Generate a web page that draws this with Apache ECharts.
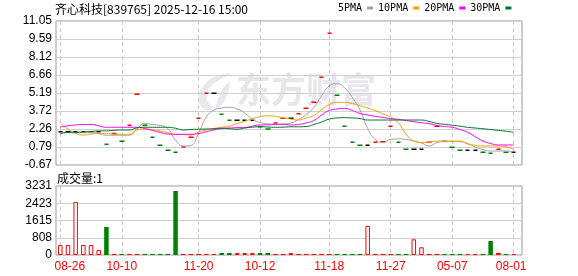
<!DOCTYPE html>
<html><head><meta charset="utf-8">
<script src="https://cdn.jsdelivr.net/npm/echarts@6/dist/echarts.min.js"></script>
<style>html,body{margin:0;padding:0;background:#fff}#c{width:578px;height:276px}</style>
</head><body><div id="c"></div>
<script>
// ---- data ----
const dateLabels = ['08-26','10-10','11-20','10-12','11-18','11-27','05-07','08-01'];
const dateIndex  = [0, 8, 18, 26, 35, 43, 51, 59];
const price = [2.03,2.03,2.03,2.03,2.03,2.03,1.02,1.90,1.26,2.56,
               5.08,2.56,1.59,0.93,0.53,0.36,0.80,1.59,3.13,5.17,
               5.17,3.46,2.97,2.97,2.97,2.97,2.45,2.26,2.75,3.14,
               3.14,3.51,3.94,4.43,6.47,10.05,5.00,2.48,1.18,0.93,
               0.93,1.18,1.23,2.48,1.18,0.61,0.61,0.61,1.18,2.48,
               1.27,0.77,0.53,0.53,0.53,0.36,0.28,0.61,0.36,0.36];
const ma5 = [1.96,1.96,1.96,1.96,1.96,1.89,1.75,1.75,1.75,1.75,
             2.26,2.71,2.63,2.55,2.30,1.36,0.88,0.92,1.93,3.24,
             3.81,3.97,4.03,3.89,3.56,3.05,2.79,2.68,2.65,2.67,
             2.75,3.03,3.44,4.01,4.95,5.76,5.94,5.60,4.82,3.81,
             2.30,1.40,1.16,1.42,1.45,1.41,1.28,1.12,0.88,1.15,
             1.23,1.23,1.23,1.08,0.80,0.58,0.47,0.47,0.47,0.39];
const ma10 = [2.69,2.26,1.89,1.77,1.85,1.89,1.89,1.83,1.83,1.83,
              2.20,2.24,2.20,2.10,1.96,1.81,1.80,1.77,2.02,2.18,
              2.30,2.41,2.49,2.71,2.89,3.10,3.26,3.34,3.28,3.16,
              3.07,2.99,3.16,3.36,3.85,4.25,4.43,4.43,4.34,4.16,
              3.97,3.77,3.48,3.24,2.75,1.85,1.28,1.16,1.18,1.28,
              1.28,1.28,1.28,1.04,0.93,0.88,0.88,0.88,0.82,0.55];
const ma20 = [2.42,2.52,2.59,2.63,2.63,2.52,2.40,2.40,2.40,2.40,
              2.40,2.30,2.14,1.98,1.85,1.83,1.83,1.83,1.89,2.04,
              2.18,2.30,2.34,2.37,2.38,2.50,2.59,2.60,2.63,2.64,
              2.59,2.63,2.75,2.95,3.40,3.77,3.89,3.94,3.77,3.52,
              3.40,3.29,3.20,3.10,3.05,2.95,2.85,2.77,2.69,2.55,
              2.46,2.40,2.22,1.99,1.63,1.28,1.08,0.96,0.96,0.96];
const ma30 = [1.88,1.98,1.99,2.02,2.06,2.10,2.11,2.15,2.18,2.18,
              2.36,2.40,2.40,2.40,2.40,2.32,2.18,2.22,2.24,2.26,
              2.28,2.32,2.28,2.24,2.34,2.41,2.45,2.42,2.40,2.41,
              2.44,2.44,2.46,2.63,2.83,3.07,3.16,3.18,3.16,3.11,
              2.99,2.99,2.99,2.99,2.99,2.99,2.99,2.99,2.87,2.72,
              2.64,2.57,2.49,2.40,2.34,2.28,2.22,2.15,2.08,1.99];
const volume = [468,468,2481,468,468,234,1311,50,50,50,
                50,50,50,50,50,2996,50,50,50,50,
                50,95,95,95,95,95,95,95,50,50,
                95,50,50,50,50,50,50,50,50,50,
                1358,50,50,50,50,50,735,360,50,50,
                50,50,50,50,50,50,655,100,50,50];
const priceTicks  = ['-0.67','0.79','2.26','3.72','5.19','6.66','8.12','9.59','11.05'];
const volumeTicks = ['0','808','1615','2423','3231'];
const seriesNames = ['5PMA','10PMA','20PMA','30PMA'];
const titleText = '齐心科技[839765] 2025-12-16 15:00';
const volTitle = '成交量:1';
const watermarkText = '东方财富';

// ---- styling ----
const RED = '#ff0000', GREEN = '#008000', BLACK = '#000000';
const maColors = ['#a0a0a0', '#f5a000', '#ff00ff', '#006f2e'];
const labelFont = 'Liberation Sans';

const pMin = Number(priceTicks[0]), pMax = Number(priceTicks[priceTicks.length - 1]);
const pStep = (pMax - pMin) / (priceTicks.length - 1);
const vMin = Number(volumeTicks[0]), vMax = Number(volumeTicks[volumeTicks.length - 1]);
const vStep = (vMax - vMin) / (volumeTicks.length - 1);

const colorOf = price.map((p, i) => {
  const prev = i > 0 ? price[i - 1] : p;
  return p > prev ? RED : (p < prev ? GREEN : BLACK);
});

const candleData = price.map((p, i) => {
  const c = colorOf[i];
  return { value: [i, p, p, p, p],
    itemStyle: { color: c, color0: c, borderColor: c, borderColor0: c, borderColorDoji: c } };
});
const volData = volume.map((v, i) => {
  const c = colorOf[i];
  if (c === BLACK) return { value: [i, v], itemStyle: { color: '#ffffff', borderColor: RED, borderWidth: 1 } };
  return { value: [i, v], itemStyle: { color: c } };
});
const maSeries = [ma5, ma10, ma20, ma30].map((arr, k) => ({
  name: seriesNames[k], type: 'line', xAxisIndex: 0, yAxisIndex: 0,
  data: arr.map((v, i) => [i, v]), symbol: 'none', smooth: 0.5, z: 4,
  lineStyle: { width: 1, color: maColors[k] }, itemStyle: { color: maColors[k] }
}));

const xMin = -0.56, xMax = 60.08;
const gridL = 56, gridW = 466;
const wmFill = '#e8e8ee';

const chart = echarts.init(document.getElementById('c'), null, { renderer: 'canvas' });
chart.setOption({
  animation: false,
  title: [
    { text: titleText, left: 55, top: 3, padding: 0,
      textStyle: { fontSize: 12, fontWeight: 'normal', color: '#000', fontFamily: '"Noto Sans CJK SC"' } },
    { text: volTitle, left: 57, top: 172, padding: 0,
      textStyle: { fontSize: 12, fontWeight: 'normal', color: '#000', fontFamily: '"Noto Sans CJK SC"' } }
  ],
  legend: {
    data: seriesNames, left: 338, top: 3, padding: 0, align: 'right', icon: 'rect',
    itemWidth: 6, itemHeight: 3, itemGap: 5,
    textStyle: { fontFamily: 'DejaVu Sans Mono', fontSize: 10, color: '#000' }
  },
  graphic: [
    { type: 'polygon', z: 0, silent: true,
      shape: { points: [[231,74],[214,77],[202,88],[199,101],[205,110],[213,108],[207,100],[208,90],[219,80]], smooth: 0.4 },
      style: { fill: wmFill } },
    { type: 'polygon', z: 0, silent: true,
      shape: { points: [[230,82],[221,92],[216,109],[225,100]], smooth: 0.4 },
      style: { fill: wmFill } },
    { type: 'text', left: 236, top: 72, z: 0, silent: true,
      style: { text: watermarkText, font: 'bold 35px "Noto Sans CJK SC"', fill: '#e6e6ec' } }
  ],
  grid: [
    { left: gridL, top: 21, width: gridW, height: 144, show: true, borderColor: '#999', borderWidth: 1, backgroundColor: 'transparent' },
    { left: gridL, top: 186, width: gridW, height: 69, show: true, borderColor: '#999', borderWidth: 1, backgroundColor: 'transparent' }
  ],
  xAxis: [
    { type: 'value', gridIndex: 0, min: xMin, max: xMax,
      axisLine: { show: false }, axisTick: { show: false, customValues: dateIndex },
      axisLabel: { show: false, customValues: dateIndex },
      splitLine: { show: true, lineStyle: { color: '#c8c8c8', type: [4, 3], width: 1 } } },
    { type: 'value', gridIndex: 1, min: xMin, max: xMax,
      axisLine: { show: false }, axisTick: { show: false, customValues: dateIndex },
      axisLabel: { show: true, customValues: dateIndex, color: RED, fontSize: 12, fontFamily: labelFont, margin: 6,
        formatter: v => {
          const k = dateIndex.indexOf(Math.round(v));
          if (k < 0) return '';
          if (k === 0) return '{a|' + dateLabels[k] + '}';
          if (k === dateLabels.length - 1) return '{b|' + dateLabels[k] + '}';
          return dateLabels[k];
        },
        rich: { a: { color: RED, fontSize: 12, fontFamily: labelFont, padding: [0, 0, 0, 19] },
                b: { color: RED, fontSize: 12, fontFamily: labelFont, padding: [0, 5, 0, 0] } } },
      splitLine: { show: true, lineStyle: { color: '#c8c8c8', type: [4, 3], width: 1 } } }
  ],
  yAxis: [
    { type: 'value', gridIndex: 0, min: pMin, max: pMax, interval: pStep,
      axisLine: { show: false }, axisTick: { show: false },
      axisLabel: { color: '#000', fontSize: 12, fontFamily: labelFont, margin: 4,
        formatter: v => priceTicks[Math.round((v - pMin) / pStep)] },
      splitLine: { lineStyle: { color: '#d0d0d0', width: 1 } } },
    { type: 'value', gridIndex: 1, min: vMin, max: vMax, interval: vStep,
      axisLine: { show: false }, axisTick: { show: false },
      axisLabel: { color: '#000', fontSize: 12, fontFamily: labelFont, margin: 4,
        formatter: v => volumeTicks[Math.round((v - vMin) / vStep)] },
      splitLine: { lineStyle: { color: '#d0d0d0', width: 1 } } }
  ],
  series: [
    { type: 'candlestick', xAxisIndex: 0, yAxisIndex: 0, data: candleData, barWidth: 5, z: 3,
      encode: { x: 0, y: [1, 2, 3, 4] }, itemStyle: { borderWidth: 1.5 } },
    ...maSeries,
    { type: 'bar', xAxisIndex: 1, yAxisIndex: 1, data: volData, barWidth: 4.5, z: 3,
      encode: { x: 0, y: 1 } }
  ]
});
</script></body></html>
